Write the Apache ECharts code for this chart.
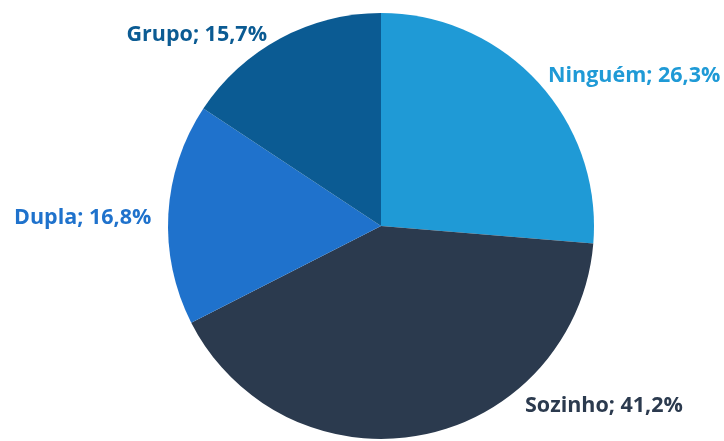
<!DOCTYPE html>
<html>
<head>
<meta charset="utf-8">
<script src="https://cdn.jsdelivr.net/npm/echarts@6/dist/echarts.min.js"></script>
<style>
  html, body { margin: 0; padding: 0; background: #ffffff; }
  #chart { width: 724px; height: 441px; }
</style>
</head>
<body>
<div id="chart"></div>
<script>
// Categories and shares (%) in clockwise order from 12 o'clock
const categories = ['Ninguém', 'Sozinho', 'Dupla', 'Grupo'];
const shares = [26.3, 41.2, 16.8, 15.7];
const sliceColors = ['#1F9AD6', '#2B3A4E', '#1F72CC', '#0B5B93'];
const labelColors = ['#1F9AD6', '#2B3A4E', '#1F72CC', '#0B5B93'];

// Label anchor placement per slice (x, y, align)
const labelSpots = [
  { x: 548, y: 76, align: 'left' },
  { x: 525, y: 406, align: 'left' },
  { x: 14, y: 218, align: 'left' },
  { x: 267, y: 35, align: 'right' }
];

const fmt = v => v.toFixed(1).replace('.', ',');

const chart = echarts.init(document.getElementById('chart'), null, { renderer: 'canvas' });
chart.setOption({
  animation: false,
  backgroundColor: '#ffffff',
  series: [{
    type: 'pie',
    center: [381, 226],
    radius: 213,
    startAngle: 90,
    clockwise: true,
    data: categories.map((c, i) => ({
      name: c,
      value: shares[i],
      itemStyle: { color: sliceColors[i] },
      label: { color: labelColors[i] }
    })),
    label: {
      show: true,
      position: 'outside',
      formatter: p => p.name + '; ' + fmt(p.value) + '%',
      fontFamily: 'Open Sans',
      fontWeight: 'bold',
      fontSize: 21.5,
      overflow: 'none',
      width: 300
    },
    labelLine: { show: false },
    labelLayout: p => ({
      x: labelSpots[p.dataIndex].x,
      y: labelSpots[p.dataIndex].y,
      align: labelSpots[p.dataIndex].align,
      verticalAlign: 'middle'
    }),
    itemStyle: { borderWidth: 0 }
  }]
});
</script>
</body>
</html>
